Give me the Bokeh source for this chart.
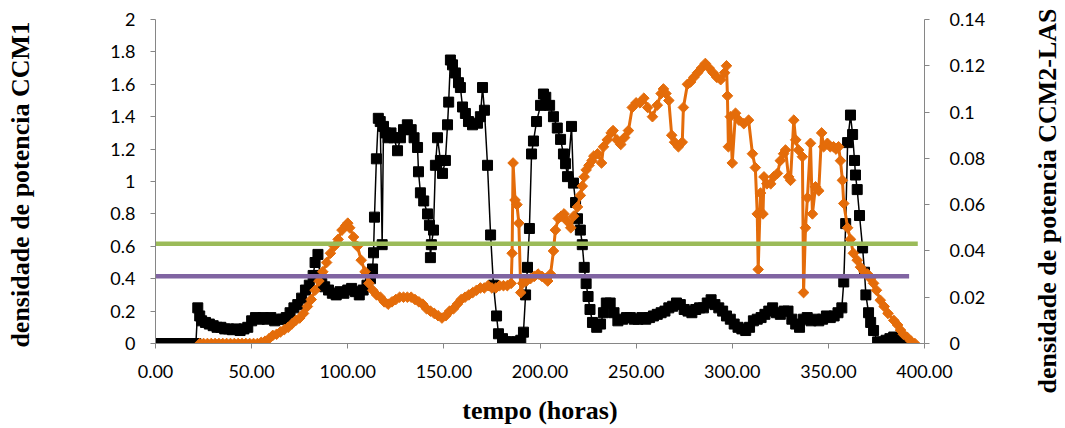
import math
from bokeh.plotting import figure
from bokeh.layouts import row
from bokeh.models import Range1d, LinearAxis, FixedTicker, NumeralTickFormatter, Title
from bokeh.embed import file_html
from bokeh.resources import INLINE

# ---------------- data ----------------
tempo_ccm1 = [0, 2, 4, 6, 8, 10, 12, 14, 16, 18, 20, 21,
              22, 23, 24, 26, 28, 30, 32, 34, 36, 38, 40, 42, 44, 46, 48, 50,
              52, 54, 56, 58, 60, 62, 64, 66, 68, 70, 72, 74, 76, 78, 80, 82,
              83, 84.5, 85.5, 86.5, 88, 90, 92, 94, 96, 98, 100, 102, 104, 106,
              108, 110, 111.8, 112.9, 113.4, 113.9, 114.9, 115.9, 116.9, 117.9,
              118.6, 119.6, 121, 122.5, 124, 125.9, 127.4, 129, 131, 133, 134.5,
              136.3, 136.8, 137.8, 139.5, 141.5, 142.5, 143, 143.5, 144.6, 145.6,
              146.7, 148.2, 149.3, 150.8, 151.9, 152.5, 153.4, 154.5, 156, 157.6,
              158.6, 159.7, 161.2, 162.8, 164.9, 167.5, 169, 170.1, 171.1, 172.7,
              174.3, 175.8, 177.4, 178.4, 180.5, 182, 184, 186, 188, 190, 191.4,
              192.5, 193.5, 194.5, 195.6, 196.6, 198.2, 200.3, 201.8, 203, 205,
              207, 209, 210.7, 212.2, 213.3, 214.3, 216.4, 217.4, 218.5, 219.5,
              221, 222, 223, 224, 225, 226, 227.3, 229.5, 231.5, 233, 234.5,
              236.5, 238.5, 240.5, 243, 245, 247, 249, 251, 253, 255, 257, 259,
              261, 263, 265, 267, 269, 271, 273, 275, 277, 279, 281, 283, 285,
              287, 289, 291, 293, 295, 297, 299, 301, 303, 305, 307, 309, 311,
              313, 315, 317, 319, 321, 323, 325, 327, 329, 331, 333, 335, 337,
              339, 341, 343, 345, 347, 349, 351, 353, 355, 357, 358, 359, 360,
              361.5, 362.6, 363.6, 364.1, 365, 366.2, 367.8, 368.8, 369.5, 370.9,
              372, 373.5, 375.6, 378, 380, 382, 384, 386, 388, 390]
ccm1 = [0, 0, 0, 0, 0, 0, 0, 0, 0, 0, 0, 0,
        0.22, 0.17, 0.14, 0.13, 0.12, 0.11, 0.10, 0.10, 0.09, 0.09, 0.085, 0.09, 0.08, 0.09, 0.10, 0.14,
        0.16, 0.15, 0.16, 0.15, 0.16, 0.14, 0.15, 0.15, 0.16, 0.19, 0.22, 0.24, 0.28, 0.33, 0.36, 0.42,
        0.50, 0.55, 0.42, 0.37, 0.35, 0.33, 0.31, 0.30, 0.32, 0.31, 0.33, 0.34, 0.32, 0.30,
        0.33, 0.36, 0.40, 0.46, 0.56, 0.78, 1.14, 1.39, 1.37, 0.61,
        1.34, 1.30, 1.27, 1.30, 1.27, 1.19, 1.27, 1.32, 1.35, 1.32, 1.27,
        1.21, 1.06, 0.93, 0.88, 0.80, 0.73, 0.53, 0.61, 0.70, 1.10,
        1.27, 1.13, 1.05, 1.13, 1.35, 1.49, 1.75, 1.72, 1.67, 1.61,
        1.58, 1.46, 1.42, 1.37, 1.35, 1.36, 1.40, 1.58, 1.44, 1.10,
        0.67, 0.36, 0.17, 0.06, 0.03, 0.01, 0.01, 0.01, 0.01, 0.02, 0.07,
        0.30, 0.47, 0.71, 1.17, 1.25, 1.37, 1.47, 1.54, 1.52, 1.47,
        1.40, 1.33, 1.26, 1.17, 1.11, 1.03, 1.34, 0.99, 0.87, 0.77,
        0.70, 0.61, 0.47, 0.37, 0.29, 0.21, 0.13, 0.10, 0.12, 0.19, 0.25,
        0.25, 0.19, 0.14, 0.15, 0.16, 0.16, 0.15, 0.15, 0.16, 0.15, 0.16, 0.17,
        0.18, 0.19, 0.20, 0.22, 0.23, 0.25, 0.24, 0.21, 0.20, 0.19, 0.21, 0.22, 0.22,
        0.25, 0.27, 0.24, 0.22, 0.20, 0.17, 0.15, 0.12, 0.10, 0.09, 0.08, 0.10, 0.14,
        0.15, 0.16, 0.18, 0.20, 0.22, 0.19, 0.18, 0.20, 0.20, 0.15, 0.12, 0.10, 0.15,
        0.16, 0.14, 0.15, 0.14, 0.15, 0.17, 0.16, 0.17, 0.19, 0.22, 0.38, 0.74, 1.24,
        1.41, 1.29, 1.13, 1.04, 0.95, 0.79, 0.59, 0.44, 0.30, 0.19,
        0.13, 0.08, 0.01, 0.01, 0.02, 0.03, 0.04, 0.02, 0.01, 0.0]

tempo_ccm2 = [23, 25, 27, 29, 31, 33, 35, 37, 39, 41, 43, 45, 47, 49, 51, 53,
              55, 57, 59, 61, 63, 65, 67, 69, 71, 73, 75, 77, 79, 81, 83, 85, 87,
              89, 91, 93, 95, 97, 99, 100, 101, 103, 105, 107, 109, 111, 113, 115,
              117, 119, 121, 123, 125, 127, 129, 131, 133, 135, 137, 139, 141, 143,
              145, 147, 149, 151, 153, 155, 157, 159, 161, 163, 165, 167, 169, 171,
              173, 175, 177, 179, 181, 183, 185, 185.5, 186, 187, 188, 189, 190, 191,
              193, 195, 197, 199, 201, 203, 204, 205.5, 207, 208, 209.5, 211, 212.5,
              214, 216, 217.5, 219.5, 221, 222, 223, 224, 225.5, 227, 228, 230, 232,
              233, 235, 237, 238, 240, 242, 244, 246, 248, 250, 252, 254, 256, 258.5,
              261, 263, 264.2, 265.5, 267, 268.5, 270, 272, 274, 274.6, 276.7, 278.3,
              280, 282, 284, 286, 288, 290, 292, 294, 296, 297, 297.5, 298, 299, 300,
              301.7, 303.5, 306, 308.5, 310.5, 312, 313, 313.5, 314.7, 316, 316.5,
              318, 320, 321.5, 323.5, 325, 326.7, 327.7, 329.3, 330.3, 332, 333,
              334.5, 336.5, 337.1, 338.1, 339.1, 340.7, 341.7, 343.3, 345, 346.5,
              347.5, 349.5, 351, 352.7, 354, 355.3, 356.3, 357.3, 358, 360, 361.5,
              363, 365, 366.7, 368.5, 370.4, 372, 373.5, 375, 377, 379, 381, 384,
              386, 387.5, 389, 391, 393, 395]
ccm2_las = [0, 0, 0, 0, 0, 0, 0, 0, 0, 0, 0, 0, 0, 0, 0, 0,
            0.0005, 0.001, 0.002, 0.0035, 0.004, 0.005, 0.006, 0.007, 0.0085, 0.010, 0.011, 0.013, 0.016, 0.019, 0.023, 0.027, 0.031,
            0.035, 0.039, 0.042, 0.045, 0.049, 0.051, 0.052, 0.050, 0.046, 0.042, 0.036, 0.031, 0.026, 0.023, 0.021,
            0.020, 0.018, 0.017, 0.018, 0.019, 0.020, 0.020, 0.020, 0.020, 0.019, 0.018, 0.017, 0.015, 0.014,
            0.013, 0.012, 0.011, 0.012, 0.014, 0.015, 0.017, 0.019, 0.020, 0.021, 0.022, 0.023, 0.024, 0.024,
            0.025, 0.024, 0.024, 0.025, 0.025, 0.025, 0.026, 0.039, 0.078, 0.062, 0.060, 0.052, 0.022, 0.026,
            0.027, 0.028, 0.029, 0.030, 0.029, 0.028, 0.027, 0.030, 0.040, 0.049, 0.054, 0.055, 0.056,
            0.053, 0.050, 0.055, 0.059, 0.064, 0.068, 0.072, 0.075, 0.077, 0.079, 0.081, 0.082, 0.078,
            0.085, 0.088, 0.091, 0.092, 0.088, 0.086, 0.089, 0.092, 0.102, 0.104, 0.104, 0.106, 0.102, 0.098,
            0.103, 0.108, 0.110, 0.108, 0.105, 0.090, 0.087, 0.085, 0.087, 0.102, 0.112, 0.113,
            0.115, 0.117, 0.119, 0.121, 0.119, 0.117, 0.115, 0.114, 0.117, 0.120, 0.107, 0.085, 0.098, 0.078,
            0.0995, 0.0965, 0.095, 0.0965, 0.082, 0.076, 0.056, 0.032, 0.065, 0.056, 0.072,
            0.069, 0.069, 0.072, 0.0735, 0.079, 0.082, 0.0836, 0.072, 0.0705, 0.0965, 0.088,
            0.0836, 0.0807, 0.022, 0.050, 0.063, 0.0865, 0.056, 0.0677, 0.066, 0.091,
            0.085, 0.0865, 0.085, 0.085, 0.084, 0.085, 0.079, 0.0705, 0.0605, 0.050, 0.045,
            0.039, 0.036, 0.033, 0.031, 0.030, 0.028, 0.026, 0.023, 0.0187, 0.016, 0.013, 0.010,
            0.008, 0.0058, 0.004, 0.0027, 0.001, 0.0]

limite_verde_x = [0, 396.5]
limite_verde = [0.615, 0.615]
limite_roxo_x = [0, 392]
limite_roxo = [0.415, 0.415]

x_ticks = [0, 50, 100, 150, 200, 250, 300, 350, 400]
y_left_ticks = [0, 0.2, 0.4, 0.6, 0.8, 1.0, 1.2, 1.4, 1.6, 1.8, 2.0]
y_right_ticks = [0, 0.02, 0.04, 0.06, 0.08, 0.1, 0.12, 0.14]

x_label = "tempo (horas)"
y_left_label = "densidade de potencia  CCM1"
y_right_label = "densidade de potencia  CCM2-LAS"

# ---------------- figure ----------------
AXIS_COL = "#868686"
TICK_FONT = "Lato"
TICK_SIZE = "18px"
LABEL_FONT = "Liberation Serif"
LABEL_SIZE = "26px"
TOTAL_H = 428
TITLE_W = 35

p = figure(width=1065 - TITLE_W, height=TOTAL_H,
           x_range=Range1d(0, 400), y_range=Range1d(0, 2),
           output_backend="svg", toolbar_location=None,
           min_border_left=155, min_border_right=106,
           min_border_top=19, min_border_bottom=85)
p.extra_y_ranges = {"right": Range1d(0, 0.14)}
p.outline_line_color = None
p.xgrid.visible = False
p.ygrid.visible = False
p.background_fill_color = "white"
p.border_fill_color = "white"


def style_axis(ax):
    ax.axis_line_color = AXIS_COL
    ax.major_tick_line_color = AXIS_COL
    ax.minor_tick_line_color = None
    ax.major_tick_in = 0
    ax.major_tick_out = 5
    ax.major_label_text_font = TICK_FONT
    ax.major_label_text_font_size = TICK_SIZE
    ax.major_label_text_color = "black"
    ax.axis_label_text_font = LABEL_FONT
    ax.axis_label_text_font_style = "bold"
    ax.axis_label_text_font_size = LABEL_SIZE
    ax.axis_label_text_color = "black"


xa = p.xaxis[0]
style_axis(xa)
xa.ticker = FixedTicker(ticks=x_ticks)
xa.formatter = NumeralTickFormatter(format="0.00")
xa.major_label_standoff = 16
xa.axis_label = x_label
xa.axis_label_standoff = 15

ya = p.yaxis[0]
style_axis(ya)
ya.ticker = FixedTicker(ticks=y_left_ticks)
ya.formatter = NumeralTickFormatter(format="0.[0]")
ya.major_label_standoff = 15
ya.axis_label = y_left_label
ya.axis_label_standoff = 72

yr = LinearAxis(y_range_name="right")
style_axis(yr)
yr.ticker = FixedTicker(ticks=y_right_ticks)
yr.formatter = NumeralTickFormatter(format="0.[00]")
yr.major_label_standoff = 20
p.add_layout(yr, "right")

# CCM1 (black squares, left axis)
p.line(tempo_ccm1, ccm1, line_color="black", line_width=1.5)
p.scatter(tempo_ccm1, ccm1, marker="square", size=10,
          fill_color="black", line_color="black")

# CCM2-LAS (orange diamonds, right axis)
p.line(tempo_ccm2, ccm2_las, line_color="#E46C0A", line_width=3,
       y_range_name="right")
p.scatter(tempo_ccm2, ccm2_las, marker="square", size=7.5, angle=math.pi / 4,
          fill_color="#E46C0A", line_color="#E46C0A", y_range_name="right")

# threshold lines
p.line(limite_verde_x, limite_verde, line_color="#9BBB59", line_width=4.5)
p.line(limite_roxo_x, limite_roxo, line_color="#8064A2", line_width=4.5)

# ---------------- right axis title (reads bottom to top) ----------------
t = figure(width=TITLE_W, height=TOTAL_H,
           x_range=Range1d(0, 1), y_range=Range1d(0, 1),
           output_backend="svg", toolbar_location=None,
           min_border_left=0, min_border_right=0,
           min_border_top=19, min_border_bottom=85)
t.axis.visible = False
t.xgrid.visible = False
t.ygrid.visible = False
t.outline_line_color = None
t.background_fill_color = "white"
t.border_fill_color = "white"
t.add_layout(Title(text=y_right_label, align="left", offset=-50, standoff=0,
                   text_font=LABEL_FONT, text_font_style="bold",
                   text_font_size=LABEL_SIZE, text_color="black"), "left")

layout = row(p, t, spacing=0)
open("out.html", "w").write(file_html(layout, INLINE))
